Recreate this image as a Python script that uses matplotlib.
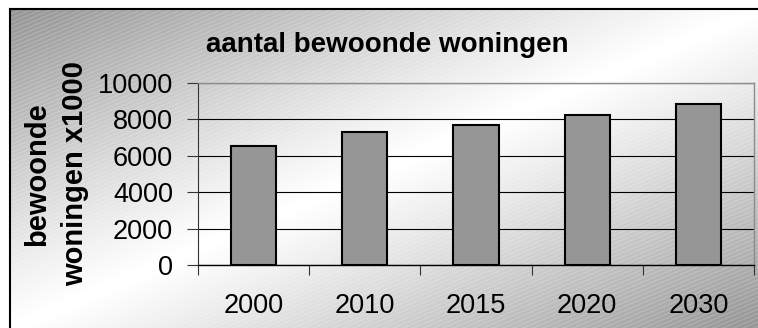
import numpy as np
import matplotlib
matplotlib.use("Agg")
import matplotlib.pyplot as plt
from matplotlib.lines import Line2D

# bewoonde woningen (x1000) per jaar
jaren = ["2000", "2010", "2015", "2020", "2030"]
woningen = [6550, 7280, 7700, 8230, 8850]
y_ticks = [0, 2000, 4000, 6000, 8000, 10000]

W, H = 758, 328
plt.rcParams["font.family"] = ["Liberation Sans", "DejaVu Sans"]

fig = plt.figure(figsize=(W / 100, H / 100), dpi=100)

# achtergrond: diagonaal verloop grijs-wit-grijs met fijne streepjes
fx0, fy0 = 10, 9
yy, xx = np.mgrid[0:H, 0:W].astype(float)
u = (xx - fx0) / (W - fx0)
v = (yy - fy0) / (H - fy0)
t = u + v
level = 1 - 0.40 * np.abs(t - 1) ** 1.1
stripes = np.sin(2 * np.pi * (yy + 0.42 * xx) / 4.2)
level = level + 0.035 * stripes * (1 - level) / 0.4
bg = np.where((xx >= fx0) & (yy >= fy0), level, 1.0)
fig.figimage(np.clip(bg, 0, 1), xo=0, yo=0, origin="upper", cmap="gray",
             vmin=0, vmax=1, zorder=-5)

# kader rond de grafiek
fig.add_artist(Line2D([fx0 / W, 1], [1 - (fy0 - 1.5) / H] * 2, color="#c8c8c8", lw=0.8))
fig.add_artist(Line2D([fx0 / W, 1], [1 - fy0 / H] * 2, color="black", lw=1.5))
fig.add_artist(Line2D([fx0 / W] * 2, [0, 1 - fy0 / H], color="black", lw=1.5))

ax = fig.add_axes([198 / W, 62.7 / H, 556 / W, 182.6 / H])
ax.set_facecolor("none")

x = np.arange(len(jaren))
ax.bar(x, woningen, width=0.405, color="#969696", edgecolor="black",
       linewidth=1.5, zorder=3)

ax.set_xlim(-0.5, len(jaren) - 0.5)
ax.set_ylim(0, 10000)
ax.set_yticks(y_ticks)
ax.yaxis.grid(True, color="black", linewidth=0.8, zorder=1)
ax.set_axisbelow(True)

ax.set_xticks(np.arange(-0.5, len(jaren)), labels=[""] * (len(jaren) + 1))
ax.set_xticks(x, labels=jaren, minor=True)
ax.tick_params(axis="x", which="major", direction="out", length=7.5,
               width=0.8, color="#333333")
ax.tick_params(axis="x", which="minor", length=0, pad=20, labelsize=19.5)
ax.tick_params(axis="y", direction="out", length=8, width=0.8,
               color="#333333", pad=10, labelsize=19.5)

for side in ["top", "right"]:
    ax.spines[side].set_color("#8c8c8c")
    ax.spines[side].set_linewidth(1.0)
ax.spines["left"].set_color("#333333")
ax.spines["left"].set_linewidth(0.8)
ax.spines["bottom"].set_color("black")
ax.spines["bottom"].set_linewidth(1.0)

fig.text(387.5 / W, 1 - 52 / H, "aantal bewoonde woningen", ha="center",
         va="baseline", fontsize=20, fontweight="bold")
fig.text(56 / W, 1 - 174 / H, "bewoonde\nwoningen x1000", rotation=90,
         ha="center", va="center", multialignment="center", fontsize=21,
         fontweight="bold", linespacing=1.45)

fig.savefig("out.png", dpi=100)
